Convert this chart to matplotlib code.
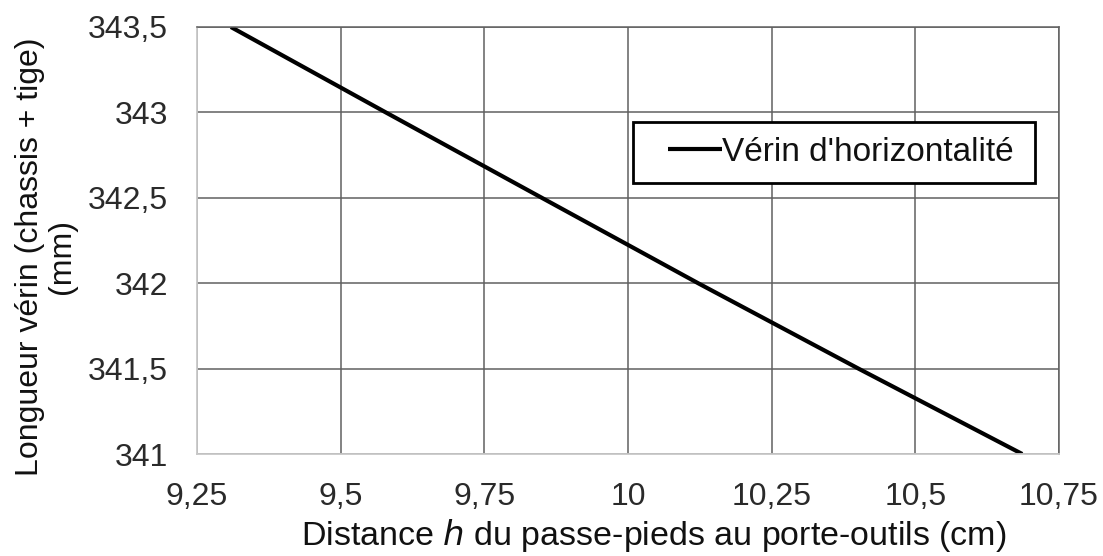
import matplotlib.pyplot as plt
from matplotlib.patches import Rectangle
from matplotlib.ticker import FuncFormatter

plt.rcParams["font.family"] = ["Liberation Sans", "DejaVu Sans"]

# distance h (cm) vs longueur du vérin (mm)
h_cm = [9.309, 9.5785, 9.850, 10.122, 10.401, 10.686]
longueur_mm = [343.5, 343.0, 342.5, 342.0, 341.5, 341.0]

x_ticks = [9.25, 9.5, 9.75, 10, 10.25, 10.5, 10.75]
y_ticks = [341, 341.5, 342, 342.5, 343, 343.5]


def virgule(v, _pos=None):
    s = f"{v:g}"
    return s.replace(".", ",")


W, H = 1103, 556
fig = plt.figure(figsize=(W / 100, H / 100), dpi=100)
ax = fig.add_axes([197 / W, 1 - 454 / H, 862 / W, 427 / H])

ax.plot(h_cm, longueur_mm, color="black", linewidth=3, label="Vérin d'horizontalité",
        solid_capstyle="butt")

ax.set_xlim(9.25, 10.75)
ax.set_ylim(341, 343.5)
ax.set_xticks(x_ticks)
ax.set_yticks(y_ticks)
ax.xaxis.set_major_formatter(FuncFormatter(virgule))
ax.yaxis.set_major_formatter(FuncFormatter(virgule))
ax.tick_params(length=0, labelsize=23, colors="#2a2a2a")
ax.tick_params(axis="y", pad=21)
ax.tick_params(axis="x", pad=20)

ax.grid(True, color="#606060", linewidth=1.1)
ax.set_axisbelow(True)
for side in ("top", "right"):
    ax.spines[side].set_color("#606060")
    ax.spines[side].set_linewidth(1.1)
for side in ("left", "bottom"):
    ax.spines[side].set_color("#c8c8c8")
    ax.spines[side].set_linewidth(1.3)

# titres des axes, placés comme sur l'original
fig.text(654 / W, 1 - 545 / H, "Distance $h$ du passe-pieds au porte-outils (cm)",
         fontsize=24.5, color="#111111", ha="center", va="baseline")
fig.text(46 / W, 1 - 257 / H, "Longueur vérin (chassis + tige)\n(mm)", fontsize=23,
         color="#111111", ha="center", va="center", rotation=90,
         multialignment="center", linespacing=1.05)

# cadre de la légende dessiné à part (marges gauche/droite différentes)
ax.add_patch(Rectangle((633 / W, 1 - 183 / H), 402 / W, 61 / H,
                       transform=fig.transFigure, facecolor="white",
                       edgecolor="black", linewidth=2, zorder=5, clip_on=False))
leg = ax.legend(loc="center left", bbox_to_anchor=(668 / W, 1 - 152.5 / H),
                bbox_transform=fig.transFigure, fontsize=24, frameon=False,
                handlelength=1.62, handletextpad=0.0, borderpad=0, borderaxespad=0,
                labelcolor="#111111")
leg.set_zorder(6)

fig.savefig("out.png", dpi=100)
